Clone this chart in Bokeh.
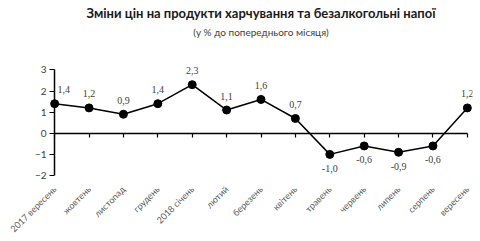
import math
from bokeh.plotting import figure
from bokeh.models import ColumnDataSource, Range1d, LinearAxis, FixedTicker, Title, LabelSet
from bokeh.embed import file_html
from bokeh.resources import INLINE

months = ["2017 вересень", "жовтень", "листопад", "грудень", "2018 січень", "лютий",
          "березень", "квітень", "травень", "червень", "липень", "серпень", "вересень"]
values = [1.4, 1.2, 0.9, 1.4, 2.3, 1.1, 1.6, 0.7, -1.0, -0.6, -0.9, -0.6, 1.2]
y_ticks = [-2, -1, 0, 1, 2, 3]
title = "Зміни цін на продукти харчування та безалкогольні напої"
subtitle = "(у % до попереднього місяця)"

FONT = "Lato"
idx = list(range(len(months)))
labels = [f"{v:.1f}".replace(".", ",") for v in values]

src = ColumnDataSource(dict(
    x=idx, y=values, lab=labels,
    yoff=[14 if v >= 0 else -14 for v in values],
    xoff=[9 if i == 0 else 0 for i in idx],
))

p = figure(width=480, height=241, output_backend="svg", toolbar_location=None,
           x_range=Range1d(-0.15, len(months) - 1 + 0.15),
           y_range=Range1d(y_ticks[0], y_ticks[-1] + 0.35),
           min_border_left=49, min_border_right=8, min_border_bottom=63, min_border_top=0,
           outline_line_color=None)
p.grid.visible = False

# category labels axis (bottom)
p.xaxis.ticker = FixedTicker(ticks=idx)
p.xaxis.major_label_overrides = {i: m for i, m in zip(idx, months)}
p.xaxis.major_label_orientation = math.pi / 4
p.xaxis.axis_line_color = None
p.xaxis.major_tick_line_color = None
p.xaxis.minor_tick_line_color = None
p.xaxis.major_label_text_font = FONT
p.xaxis.major_label_text_font_size = "9px"
p.xaxis.major_label_text_color = "#595959"
p.xaxis.major_label_standoff = 6

# zero line axis (placed in the above panel, ticks pointing down into the frame)
zax = LinearAxis(fixed_location=0, ticker=FixedTicker(ticks=idx), bounds=(idx[0], idx[-1]))
zax.major_label_overrides = {i: "" for i in idx}
zax.major_label_standoff = 0
zax.major_tick_in = 4
zax.major_tick_out = 0
zax.minor_tick_line_color = None
zax.axis_line_color = "black"
zax.axis_line_width = 1.5
zax.major_tick_line_width = 1.2
p.add_layout(zax, "above")

# subtitle as an axis label above the frame
sax = LinearAxis(ticker=FixedTicker(ticks=[]), axis_label=subtitle)
sax.axis_line_color = None
sax.major_tick_line_color = None
sax.minor_tick_line_color = None
sax.axis_label_standoff = 25
sax.axis_label_text_font = FONT
sax.axis_label_text_font_size = "10px"
sax.axis_label_text_font_style = "normal"
sax.axis_label_text_color = "#404040"
p.add_layout(sax, "above")

# y axis
p.yaxis.ticker = FixedTicker(ticks=y_ticks)
p.yaxis.minor_tick_line_color = None
p.yaxis.axis_line_color = None
p.yaxis.major_tick_in = 5
p.yaxis.major_tick_out = 0
p.yaxis.major_tick_line_width = 1.2
p.yaxis.major_label_standoff = 3
p.yaxis.major_label_text_font = FONT
p.yaxis.major_label_text_font_size = "10px"
p.yaxis.major_label_text_color = "#404040"

yline = LinearAxis(fixed_location=0, ticker=FixedTicker(ticks=y_ticks),
                   bounds=(y_ticks[0], y_ticks[-1]))
yline.major_label_overrides = {t: "" for t in y_ticks}
yline.major_tick_line_color = None
yline.minor_tick_line_color = None
yline.axis_line_width = 1.5
yline.major_label_standoff = 0
p.add_layout(yline, "left")

p.line("x", "y", source=src, line_color="black", line_width=1.5)
p.scatter("x", "y", source=src, size=8, fill_color="black", line_color="black")
p.add_layout(LabelSet(x="x", y="y", text="lab", source=src, x_offset="xoff", y_offset="yoff",
                      text_align="center", text_baseline="middle", text_font=FONT,
                      text_font_size="10px", text_color="#404040"))

p.add_layout(Title(text=title, align="center",
                   text_font=FONT, text_font_size="13px", text_font_style="bold",
                   text_color="#1a1a1a", standoff=4), "above")

open("out.html", "w").write(file_html(p, INLINE))
